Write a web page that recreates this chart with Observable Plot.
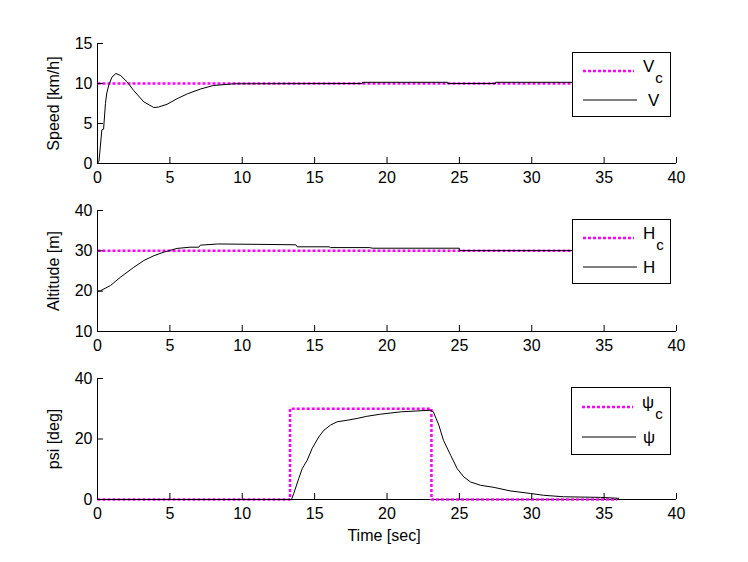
<!DOCTYPE html>
<html><head><meta charset="utf-8">
<script src="https://cdn.jsdelivr.net/npm/d3@7"></script>
<script src="https://cdn.jsdelivr.net/npm/@observablehq/plot@0.6"></script>
<style>
body{margin:0;background:#fff;font-family:"Liberation Sans",Arial,sans-serif;}
#wrap{position:relative;width:748px;height:562px;}
#wrap svg{display:block}
#legend{position:absolute;left:0;top:0;pointer-events:none}
</style></head><body><div id="wrap"></div>
<script>
// ---- data ----
const xTicks = [0, 5, 10, 15, 20, 25, 30, 35, 40];
const speedTicks = [0, 5, 10, 15];
const altTicks = [10, 20, 30, 40];
const psiTicks = [0, 20, 40];

const speedTime   = [0, 0.1, 0.15, 0.3, 0.42, 0.55, 0.64, 0.78, 1.0, 1.27, 1.59, 2.05, 2.51, 3.2, 3.89, 4.2, 4.8, 5.5, 6.2, 7.1, 8.0, 9.4, 18.3, 18.3, 24.2, 24.2, 27.5, 27.5, 36];
const speedValues = [0, 0.3, 1.2, 4.2, 4.3, 7.5, 8.8, 9.8, 10.8, 11.25, 11.0, 10.2, 9.1, 7.7, 7.0, 7.05, 7.4, 8.1, 8.7, 9.3, 9.75, 9.96, 10.0, 10.15, 10.15, 10.0, 10.0, 10.15, 10.15];
const speedCmdTime   = [0, 36];
const speedCmdValues = [10, 10];

const altTime   = [0, 0.2, 0.9, 1.6, 2.5, 3.2, 3.9, 4.6, 5.0, 5.5, 6.4, 7.0, 7.1, 8.3, 11.3, 13.7, 13.8, 16.0, 16.1, 18.8, 19.0, 25.0, 25.0, 36];
const altValues = [20, 20.1, 21.4, 23.5, 25.9, 27.6, 28.8, 29.7, 30.1, 30.6, 30.9, 30.9, 31.4, 31.7, 31.6, 31.5, 31.0, 31.0, 30.8, 30.8, 30.65, 30.65, 30.05, 30.05];
const altCmdTime   = [0, 36];
const altCmdValues = [30, 30];

const psiTime   = [0, 13.4, 13.56, 13.9, 14.14, 14.49, 14.83, 15.29, 15.64, 16.1, 16.56, 17.25, 17.94, 18.6, 19.55, 21.0, 23.0, 23.2, 23.58, 23.9, 24.4, 24.85, 25.3, 25.77, 26.46, 27.4, 28.5, 29.9, 30.8, 32.2, 34.75, 36];
const psiValues = [0, 0, 2.0, 6.9, 10.2, 13.0, 16.9, 20.7, 22.9, 24.6, 25.7, 26.2, 26.8, 27.5, 28.2, 29.0, 29.5, 29.0, 24.6, 19.6, 14.6, 10.2, 7.5, 5.8, 4.7, 4.0, 2.85, 2.0, 1.4, 0.9, 0.7, 0.4];
const psiCmdTime   = [0, 13.3, 13.3, 23.07, 23.07, 35.9];
const psiCmdValues = [0, 0, 30, 30, 0, 0];

const yLabels = ["Speed [km/h]", "Altitude [m]", "psi [deg]"];
const xLabel = "Time [sec]";
const legendNames = ["V", "H", "\u03C8"];
const legendSub = "c";

// ---- drawing ----
const MAGENTA = "#ff00ff";
const FONT = "'Liberation Sans', Arial, sans-serif";
const zip = (xs, ys) => xs.map((x, i) => ({x, y: ys[i]}));

function panel({height, mt, mb, yDomain, yTicks, yLabel, actual, cmd, withXLabel}) {
  const marks = [
    Plot.ruleX([0], {stroke: "black"}),
    Plot.ruleY([yDomain[0]], {stroke: "black"}),
    Plot.line(cmd, {x: "x", y: "y", stroke: MAGENTA, strokeWidth: 2.5, strokeDasharray: "3,2", strokeLinecap: "butt", strokeLinejoin: "miter"}),
    Plot.line(actual, {x: "x", y: "y", stroke: "black", strokeWidth: 1}),
    Plot.axisX(xTicks, {tickSize: -6, tickPadding: 14, label: null, fontSize: 16}),
    Plot.axisY(yTicks, {tickSize: -6, tickPadding: 11, label: null, fontSize: 16}),
    Plot.text([yLabel], {text: d => d, frameAnchor: "left", dx: -44, rotate: -90, textAnchor: "middle", lineAnchor: "middle", fontSize: 16, style: {letterSpacing: "0.5px"}})
  ];
  if (withXLabel) marks.push(Plot.text([xLabel], {text: d => d, frameAnchor: "bottom", dy: 36, dx: -3, textAnchor: "middle", lineAnchor: "middle", fontSize: 16}));
  return Plot.plot({
    width: 748, height,
    marginLeft: 97, marginRight: 72, marginTop: mt, marginBottom: mb,
    style: {fontFamily: FONT, fontSize: "16px", background: "transparent", color: "black", overflow: "visible"},
    x: {domain: [0, 40]},
    y: {domain: yDomain},
    marks
  });
}

const wrap = document.getElementById("wrap");
wrap.appendChild(panel({height: 190, mt: 43, mb: 27, yDomain: [0, 15], yTicks: speedTicks, yLabel: yLabels[0],
  actual: zip(speedTime, speedValues), cmd: zip(speedCmdTime, speedCmdValues)}));
wrap.appendChild(panel({height: 167, mt: 20, mb: 26, yDomain: [10, 40], yTicks: altTicks, yLabel: yLabels[1],
  actual: zip(altTime, altValues), cmd: zip(altCmdTime, altCmdValues)}));
wrap.appendChild(panel({height: 205, mt: 21, mb: 63, yDomain: [0, 40], yTicks: psiTicks, yLabel: yLabels[2],
  actual: zip(psiTime, psiValues), cmd: zip(psiCmdTime, psiCmdValues), withXLabel: true}));

// legends
const boxes = [{left: 572, top: 52, w: 98, h: 64, x2: 76}, {left: 572, top: 219, w: 98, h: 64, x2: 71}, {left: 571, top: 387, w: 99, h: 67, x2: 72}];
const svg = d3.select(wrap).append("svg").attr("id", "legend").attr("width", 748).attr("height", 562)
  .style("font-family", FONT);
boxes.forEach((b, i) => {
  const g = svg.append("g").attr("transform", `translate(${b.left},${b.top})`);
  const r1 = Math.round(b.h * 0.3), r2 = Math.round(b.h * 0.745);
  g.append("rect").attr("x", 0.5).attr("y", 0.5).attr("width", b.w).attr("height", b.h).attr("fill", "white").attr("stroke", "black");
  g.append("line").attr("x1", 11).attr("x2", 62).attr("y1", r1).attr("y2", r1).attr("stroke", MAGENTA).attr("stroke-width", 2.5).attr("stroke-dasharray", "3,2");
  g.append("line").attr("x1", 11).attr("x2", 65).attr("y1", r2).attr("y2", r2).attr("stroke", "black");
  const t1 = g.append("text").attr("x", 71).attr("y", r1 + 1).attr("font-size", 17);
  t1.append("tspan").text(legendNames[i]);
  t1.append("tspan").attr("font-size", 15).attr("dy", 11).attr("dx", 1).text(legendSub);
  g.append("text").attr("x", b.x2).attr("y", r2 + 6).attr("font-size", 17).text(legendNames[i]);
});
</script></body></html>
